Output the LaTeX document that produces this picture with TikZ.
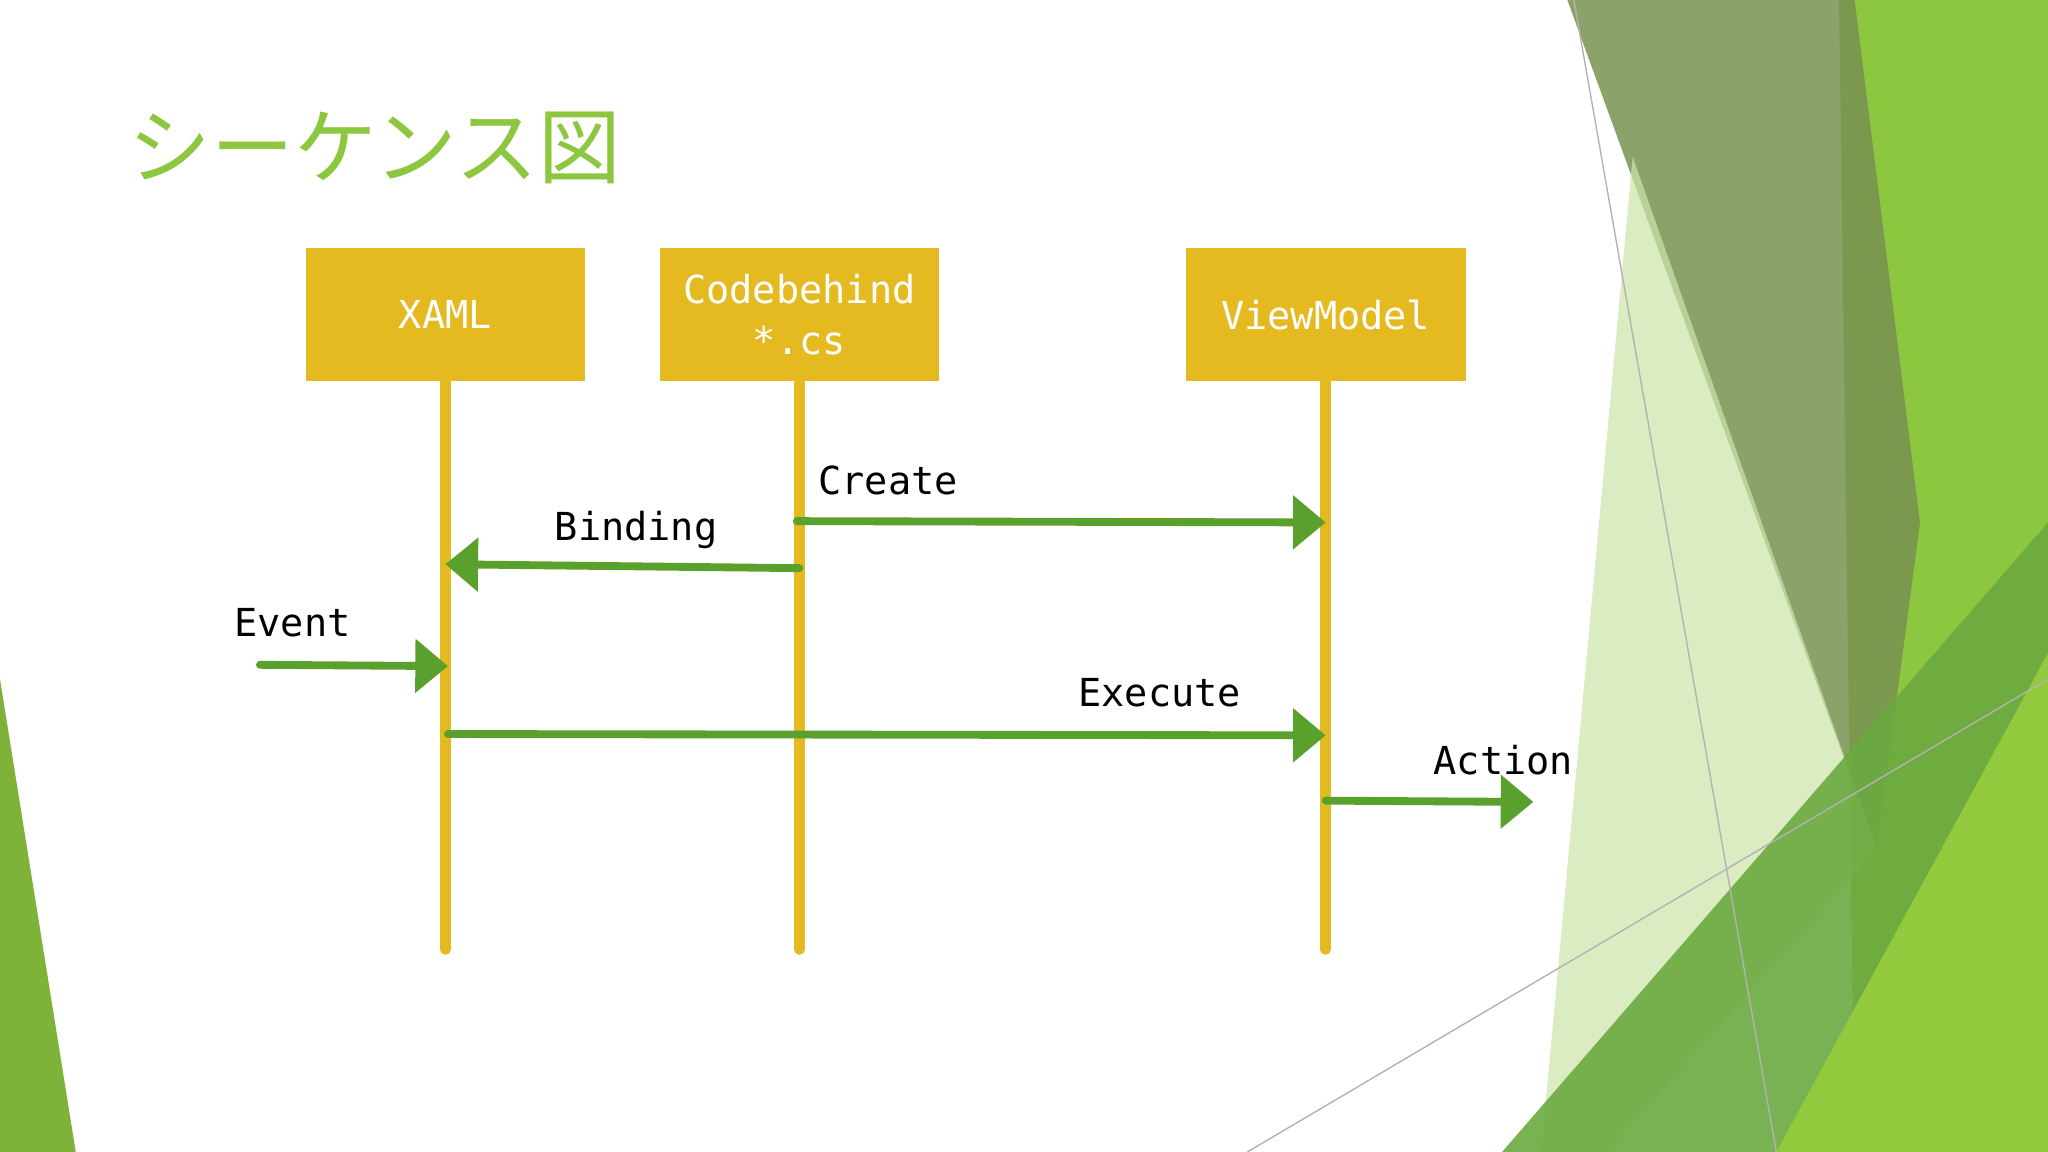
\documentclass[tikz,border=0pt]{standalone}
\usepackage{fontspec}
\setmonofont{DejaVu Sans Mono}
\newfontfamily\jpfont{Noto Sans CJK JP}
\usetikzlibrary{arrows.meta}
\definecolor{gold}{HTML}{E5B920}
\definecolor{arr}{HTML}{5AA02C}
\definecolor{ttl}{HTML}{8DC63F}
\tikzset{
  hdr/.style={fill=gold,minimum width=2.14cm,minimum height=1.02cm,text=white,font=\ttfamily\fontsize{8.4}{11}\selectfont,align=center,inner sep=0},
  life/.style={draw=gold,line width=0.08cm,line cap=round},
  msg/.style={draw=arr,line width=0.06cm,line cap=round,-{Triangle[length=0.25cm,width=0.4cm]}},
  lbl/.style={font=\ttfamily\fontsize{8.4}{11}\selectfont,inner sep=0}
}
\begin{document}
\begin{tikzpicture}[x=0.01cm,y=-0.01cm]
\useasboundingbox (0,0) rectangle (1568,882);
\fill[white] (0,0) rectangle (1568,882);
% background decoration
\fill[ttl!90!black] (0,520) -- (58,882) -- (0,882) -- cycle;
\fill[ttl] (1408,0) -- (1568,0) -- (1568,882) -- (1420,882) -- cycle;
\fill[ttl!60!black!80,opacity=0.85] (1200,0) -- (1420,0) -- (1470,400) -- (1437,650) -- cycle;
\fill[ttl!45,opacity=0.7] (1250,120) -- (1437,650) -- (1230,882) -- (1180,882) -- cycle;
\fill[arr!90,opacity=0.9] (1150,882) -- (1568,400) -- (1568,882) -- cycle;
\fill[ttl!95!yellow] (1360,882) -- (1568,500) -- (1568,882) -- cycle;
\draw[gray!60,line width=0.3pt] (1205,0) -- (1360,882);
\draw[gray!60,line width=0.3pt] (955,882) -- (1568,520);
% title
\node[anchor=west,text=ttl,font=\jpfont\fontsize{18}{20}\selectfont,inner sep=0] (title) at (98,113) {シーケンス図};
% headers
\node[hdr] (xaml) at (341,241) {XAML};
\node[hdr] (cb) at (612,241) {Codebehind\\*.cs};
\node[hdr] (vm) at (1015,241) {ViewModel};
\coordinate (xe) at (341,727);
\coordinate (ce) at (612,727);
\coordinate (ve) at (1015,727);
\draw[life] (xaml.south) -- (xe);
\draw[life] (cb.south) -- (ce);
\draw[life] (vm.south) -- (ve);
% messages
\coordinate (c1) at (610,399); \coordinate (c2) at (1015,400);
\coordinate (b1) at (612,435); \coordinate (b2) at (341,432);
\coordinate (e1) at (199,509); \coordinate (e2) at (343,510);
\coordinate (x1) at (343,562); \coordinate (x2) at (1015,563);
\coordinate (a1) at (1015,613); \coordinate (a2) at (1174,614);
\draw[msg] (c1) -- (c2);
\draw[msg] (b1) -- (b2);
\draw[msg] (e1) -- (e2);
\draw[msg] (x1) -- (x2);
\draw[msg] (a1) -- (a2);
\node[lbl] (lc) at (680,368) {Create};
\node[lbl] (lb) at (487,406) {Binding};
\node[lbl] (le) at (224,477) {Event};
\node[lbl] (lx) at (888,530) {Execute};
\node[lbl] (la) at (1151,582) {Action};
\end{tikzpicture}
\end{document}
